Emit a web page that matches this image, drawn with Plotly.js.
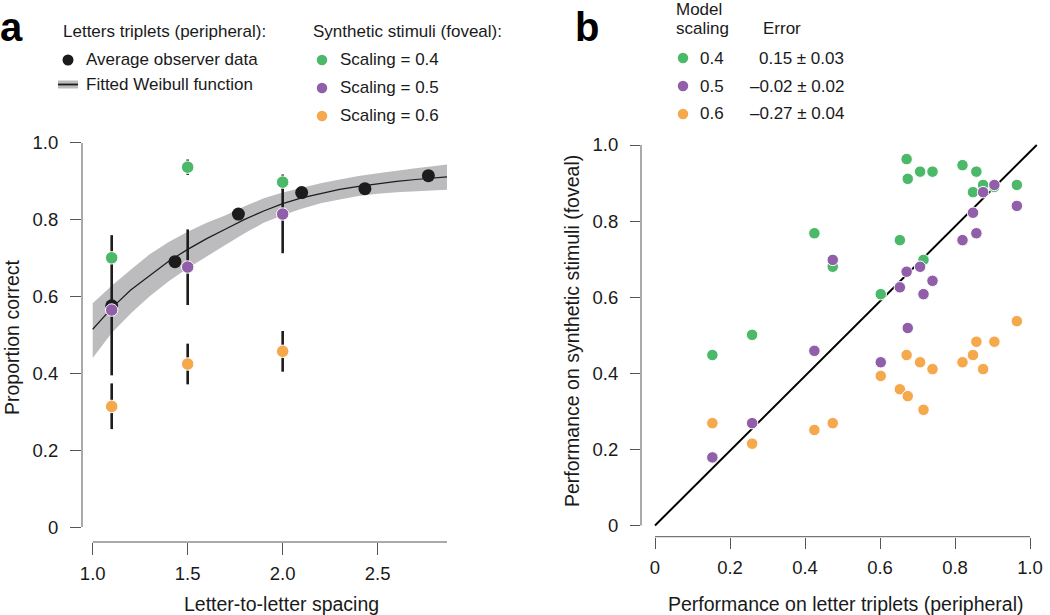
<!DOCTYPE html>
<html>
<head>
<meta charset="utf-8">
<script src="https://cdn.plot.ly/plotly-3.0.1.min.js"></script>
<style>html,body{margin:0;padding:0;background:#fff;}#chart{width:1050px;height:615px;}</style>
</head>
<body>
<div id="chart"></div>
<script>
// ---------- Panel a data ----------
const curveSpacing = [1.0, 1.1, 1.2, 1.3, 1.4, 1.5, 1.6, 1.7, 1.8, 1.9, 2.0, 2.1, 2.2, 2.3, 2.4, 2.5, 2.6, 2.7, 2.8, 2.865];
const weibullFit   = [0.515, 0.570, 0.617, 0.655, 0.692, 0.723, 0.751, 0.776, 0.801, 0.823, 0.842, 0.857, 0.869, 0.879, 0.887, 0.894, 0.900, 0.905, 0.909, 0.912];
const weibullUpper = [0.583, 0.628, 0.670, 0.710, 0.742, 0.769, 0.792, 0.812, 0.835, 0.856, 0.871, 0.884, 0.895, 0.905, 0.914, 0.921, 0.928, 0.934, 0.940, 0.944];
const weibullLower = [0.440, 0.505, 0.556, 0.601, 0.640, 0.674, 0.705, 0.735, 0.765, 0.792, 0.812, 0.829, 0.843, 0.853, 0.862, 0.868, 0.872, 0.875, 0.877, 0.878];

const observerSpacing = [1.1, 1.433, 1.767, 2.1, 2.433, 2.767];
const observerCorrect = [0.576, 0.691, 0.815, 0.871, 0.881, 0.915];

const synthSpacing = [1.1, 1.5, 2.0];
const scaling04Correct = [0.701, 0.937, 0.898];
const scaling04ErrPlus = [0.015, 0.020, 0.020];
const scaling04ErrMinus = [0.015, 0.020, 0.020];
const scaling05Correct = [0.565, 0.677, 0.815];
const scaling05ErrPlus = [0.195, 0.098, 0.100];
const scaling05ErrMinus = [0.170, 0.099, 0.102];
const scaling06Correct = [0.314, 0.4245, 0.4575];
const scaling06ErrPlus = [0.060, 0.053, 0.053];
const scaling06ErrMinus = [0.059, 0.053, 0.053];

const spacingTicks = [1.0, 1.5, 2.0, 2.5];
const spacingTickText = ['1.0', '1.5', '2.0', '2.5'];
const propTicks = [0, 0.2, 0.4, 0.6, 0.8, 1.0];
const propTickText = ['0', '0.2', '0.4', '0.6', '0.8', '1.0'];

// ---------- Panel b data ----------
const letterPerf = [0.153, 0.259, 0.425, 0.474, 0.602, 0.653, 0.671, 0.674, 0.707, 0.716, 0.740, 0.820, 0.848, 0.857, 0.875, 0.905, 0.965];
const synth04 = [0.448, 0.501, 0.768, 0.680, 0.608, 0.750, 0.963, 0.911, 0.930, 0.698, 0.930, 0.947, 0.876, 0.930, 0.895, 0.890, 0.895];
const synth05 = [0.179, 0.269, 0.459, 0.698, 0.429, 0.626, 0.667, 0.519, 0.680, 0.608, 0.643, 0.750, 0.822, 0.768, 0.876, 0.895, 0.840];
const synth06 = [0.269, 0.215, 0.251, 0.269, 0.393, 0.358, 0.448, 0.340, 0.429, 0.304, 0.411, 0.429, 0.448, 0.483, 0.411, 0.483, 0.537];
const refLineX = [0, 1.018];
const refLineY = [0, 1.0];

const legendScalings = ['0.4', '0.5', '0.6'];
const legendErrors = ['0.15 \u00b1 0.03', '\u20130.02 \u00b1 0.02', '\u20130.27 \u00b1 0.04'];
const legendScalingLabels = ['Scaling = 0.4', 'Scaling = 0.5', 'Scaling = 0.6'];

// ---------- styling ----------
const GREEN = '#4cb96a', PURPLE = '#915faa', ORANGE = '#f6a84d', BLACK = '#1c1c1c', BAND = '#bcbcbe';
const seriesColors = [GREEN, PURPLE, ORANGE];
const FONT = 'Liberation Sans, Arial, Helvetica, sans-serif';
const W = 1050, H = 615;
const px = X => X / W;
const py = Y => 1 - Y / H;

const traces = [];
// Weibull confidence band
traces.push({
  x: curveSpacing.concat(curveSpacing.slice().reverse()),
  y: weibullUpper.concat(weibullLower.slice().reverse()),
  fill: 'toself', fillcolor: BAND, mode: 'lines', line: {width: 0},
  xaxis: 'x', yaxis: 'y', hoverinfo: 'skip', showlegend: false
});
traces.push({
  x: curveSpacing, y: weibullFit, mode: 'lines', line: {color: BLACK, width: 1.2},
  xaxis: 'x', yaxis: 'y', showlegend: false
});
// black observer points
traces.push({
  x: observerSpacing, y: observerCorrect, mode: 'markers',
  marker: {color: BLACK, size: 13, line: {width: 0}},
  xaxis: 'x', yaxis: 'y', showlegend: false
});
// error bars (drawn beneath colored markers)
const synthSets = [
  [scaling04Correct, scaling04ErrPlus, scaling04ErrMinus],
  [scaling05Correct, scaling05ErrPlus, scaling05ErrMinus],
  [scaling06Correct, scaling06ErrPlus, scaling06ErrMinus]
];
synthSets.forEach(s => {
  traces.push({
    x: synthSpacing, y: s[0], mode: 'markers', marker: {size: 1, opacity: 0},
    error_y: {type: 'data', array: s[1], arrayminus: s[2], symmetric: false, color: BLACK, thickness: 2.6, width: 0},
    xaxis: 'x', yaxis: 'y', showlegend: false
  });
});
synthSets.forEach((s, i) => {
  traces.push({
    x: synthSpacing, y: s[0], mode: 'markers',
    marker: {color: seriesColors[i], size: 12.5, line: {color: '#ffffff', width: 1}},
    xaxis: 'x', yaxis: 'y', showlegend: false
  });
});

// Panel b
traces.push({
  x: refLineX, y: refLineY, mode: 'lines', line: {color: '#000000', width: 2},
  xaxis: 'x2', yaxis: 'y2', showlegend: false
});
[synth04, synth05, synth06].forEach((s, i) => {
  traces.push({
    x: letterPerf, y: s, mode: 'markers',
    marker: {color: seriesColors[i], size: 11.5, line: {color: '#ffffff', width: 1}},
    xaxis: 'x2', yaxis: 'y2', showlegend: false
  });
});

const axisCommon = {
  showgrid: false, zeroline: false, showline: false,
  ticks: 'outside', ticklen: 11, tickwidth: 1, tickcolor: '#555555',
  tickfont: {family: FONT, size: 18.5, color: '#1a1a1a'},
  fixedrange: true
};

const shapes = [
  // panel a axes
  {type: 'line', xref: 'x domain', yref: 'y', x0: 0, x1: 0, y0: 0, y1: 1, line: {color: '#555555', width: 1}},
  {type: 'line', xref: 'x', yref: 'y domain', x0: 1.0, x1: 2.865, y0: 0, y1: 0, line: {color: '#555555', width: 1}},
  // panel b axes
  {type: 'line', xref: 'x2 domain', yref: 'y2', x0: 0, x1: 0, y0: 0, y1: 1, line: {color: '#555555', width: 1}},
  {type: 'line', xref: 'x2', yref: 'y2 domain', x0: 0, x1: 1, y0: 0, y1: 0, line: {color: '#555555', width: 1}},
  // legend a: weibull icon
  {type: 'rect', xref: 'paper', yref: 'paper', x0: px(58), x1: px(78), y0: py(88.5), y1: py(80.5), fillcolor: BAND, line: {width: 0}},
  {type: 'line', xref: 'paper', yref: 'paper', x0: px(58), x1: px(78), y0: py(84.5), y1: py(84.5), line: {color: BLACK, width: 1.8}}
];
function dot(X, Y, color, d) {
  return {type: 'circle', xref: 'paper', yref: 'paper', xsizemode: 'pixel', ysizemode: 'pixel',
    xanchor: px(X), yanchor: py(Y), x0: -d / 2, x1: d / 2, y0: -d / 2, y1: d / 2,
    fillcolor: color, line: {width: 0}};
}
shapes.push(dot(68, 60, BLACK, 11));
const legendRowsA = [60, 88, 116];
legendRowsA.forEach((Y, i) => shapes.push(dot(322, Y, seriesColors[i], 10.5)));
const legendRowsB = [58, 86, 114];
legendRowsB.forEach((Y, i) => shapes.push(dot(683, Y, seriesColors[i], 10.5)));

const txtFont = {family: FONT, size: 17, color: '#1a1a1a'};
function label(text, X, Y, anchor, extra) {
  return Object.assign({text: text, xref: 'paper', yref: 'paper', x: px(X), y: py(Y),
    xanchor: anchor || 'left', yanchor: 'middle', showarrow: false, font: txtFont}, extra || {});
}
const annotations = [
  label('<b>a</b>', -2, 27, 'left', {font: {family: FONT, size: 40, color: '#000'}}),
  label('<b>b</b>', 573, 27, 'left', {font: {family: FONT, size: 40, color: '#000'}}),
  label('Letters triplets (peripheral):', 61, 32),
  label('Average observer data', 84, 60),
  label('Fitted Weibull function', 84, 84),
  label('Synthetic stimuli (foveal):', 311, 32),
  label('Model', 674, 9),
  label('scaling', 674, 28),
  label('Error', 761, 28),
  // axis titles
  label('Letter-to-letter spacing', 281, 604, 'center', {font: {family: FONT, size: 19.5, color: '#1a1a1a'}}),
  label('Performance on letter triplets (peripheral)', 846, 604, 'center', {font: {family: FONT, size: 19.5, color: '#1a1a1a'}}),
  label('Proportion correct', 12, 337, 'center', {textangle: -90, font: {family: FONT, size: 19.5, color: '#1a1a1a'}}),
  label('Performance on synthetic stimuli (foveal)', 572, 331, 'center', {textangle: -90, font: {family: FONT, size: 19.5, color: '#1a1a1a'}})
];
legendScalingLabels.forEach((t, i) => annotations.push(label(t, 338, legendRowsA[i])));
legendScalings.forEach((t, i) => annotations.push(label(t, 698, legendRowsB[i])));
legendErrors.forEach((t, i) => annotations.push(label(t, 846, legendRowsB[i], 'right')));

const layout = {
  width: W, height: H,
  margin: {l: 0, r: 0, t: 0, b: 0, pad: 0},
  paper_bgcolor: '#ffffff', plot_bgcolor: 'rgba(0,0,0,0)',
  showlegend: false,
  font: {family: FONT, color: '#1a1a1a'},
  xaxis: Object.assign({}, axisCommon, {domain: [82 / W, 447 / W], range: [0.9437, 2.865],
    tickvals: spacingTicks, ticktext: spacingTickText, ticklen: 12, ticklabelstandoff: 3, anchor: 'y'}),
  yaxis: Object.assign({}, axisCommon, {domain: [(H - 542) / H, (H - 138) / H], range: [-0.039, 1.013],
    tickvals: propTicks, ticktext: propTickText, ticklabelstandoff: 8, anchor: 'x'}),
  xaxis2: Object.assign({}, axisCommon, {domain: [641 / W, 1040 / W], range: [-0.03733, 1.02667],
    tickvals: propTicks, ticktext: propTickText, ticklabelstandoff: 3, anchor: 'y2'}),
  yaxis2: Object.assign({}, axisCommon, {domain: [(H - 536.7) / H, (H - 140) / H], range: [-0.02943, 1.01314],
    tickvals: propTicks, ticktext: propTickText, ticklen: 10, ticklabelstandoff: 8, anchor: 'x2'}),
  shapes: shapes,
  annotations: annotations
};

Plotly.newPlot('chart', traces, layout, {displayModeBar: false, staticPlot: true});
</script>
</body>
</html>
